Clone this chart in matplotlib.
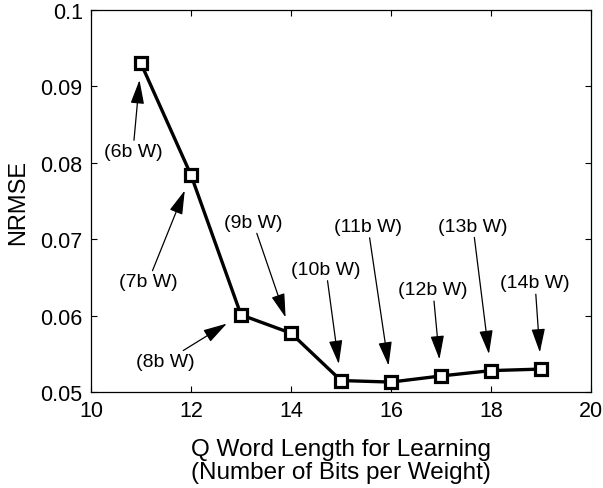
import matplotlib
matplotlib.use("Agg")
import matplotlib.pyplot as plt
from matplotlib.ticker import FuncFormatter

plt.rcParams['font.family'] = ['Liberation Sans', 'DejaVu Sans']

# Q word length for learning and resulting NRMSE
word_length = [11, 12, 13, 14, 15, 16, 17, 18, 19]
nrmse = [0.0930, 0.0784, 0.0601, 0.0577, 0.0515, 0.0513, 0.0521, 0.0528, 0.0530]
weight_labels = ["(6b W)", "(7b W)", "(8b W)", "(9b W)", "(10b W)",
                 "(11b W)", "(12b W)", "(13b W)", "(14b W)"]
# label offsets from each point, in points
label_dx = [-5.8, -31, -54.7, -27.4, -10.8, -16.6, -5.8, -13, -4.3]
label_dy = [-63.4, -77, -33.8, 80, 80, 112, 62, 104, 62]

x_ticks = [10, 12, 14, 16, 18, 20]
y_ticks = [0.05, 0.06, 0.07, 0.08, 0.09, 0.1]

fig = plt.figure(figsize=(6.03, 4.89), dpi=100)
ax = fig.add_axes([91/603, 1-393/489, 500/603, 382/489])

ax.plot(word_length, nrmse, color='black', linewidth=2.4, marker='s',
        markersize=8.5, markerfacecolor='white', markeredgecolor='black',
        markeredgewidth=2.3, zorder=3)

for x, y, lab, dx, dy in zip(word_length, nrmse, weight_labels, label_dx, label_dy):
    ax.annotate(lab, xy=(x, y), xycoords='data',
                xytext=(dx, dy), textcoords='offset points',
                ha='center', va='center', fontsize=14,
                arrowprops=dict(arrowstyle='-|>,head_length=1.05,head_width=0.3',
                                mutation_scale=14, color='black', lw=0.9,
                                shrinkA=0, shrinkB=12))

ax.set_xlim(10, 20)
ax.set_ylim(0.05, 0.1)
ax.set_xticks(x_ticks)
ax.set_yticks(y_ticks)
ax.yaxis.set_major_formatter(FuncFormatter(lambda v, p: f"{v:g}"))
ax.tick_params(direction='in', top=True, right=True, length=4, width=0.8,
               labelsize=15.5, pad=6)
for s in ax.spines.values():
    s.set_linewidth(0.9)

ax.set_xlabel("Q Word Length for Learning\n(Number of Bits per Weight)",
              fontsize=17.5, linespacing=1.08, labelpad=12)
ax.set_ylabel("NRMSE", fontsize=17, labelpad=8)

fig.savefig("out.png", dpi=100)
